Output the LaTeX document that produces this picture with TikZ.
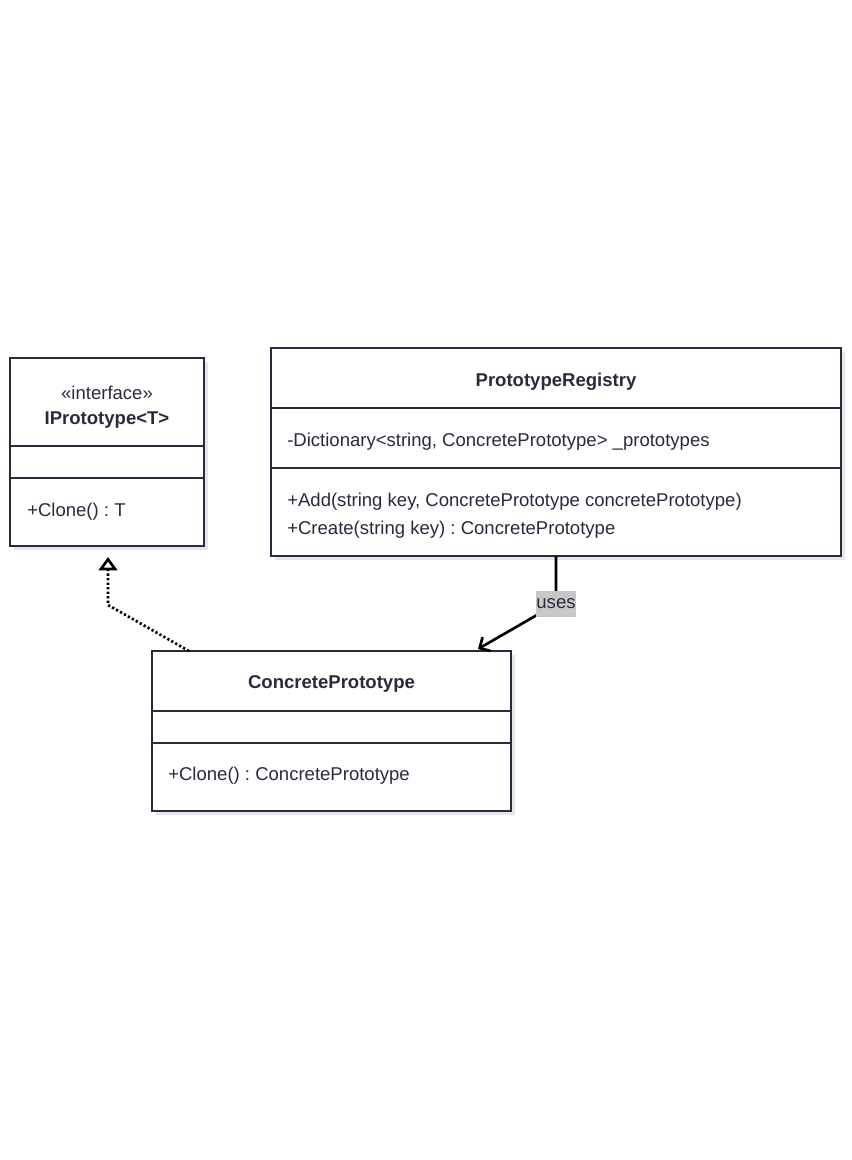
\documentclass[tikz,border=0pt]{standalone}
\usepackage{fontspec}
\setmainfont{Liberation Sans}
\usetikzlibrary{arrows.meta,shadows}
\definecolor{ink}{HTML}{2A2A3C}
\definecolor{shadowgray}{HTML}{E6E6EA}
\definecolor{labelgray}{HTML}{C8C8C8}
\tikzset{
  umlbox/.style={draw=ink, line width=2pt, fill=white, inner sep=0pt,
    general shadow={shadow xshift=3pt, shadow yshift=-3pt, fill=shadowgray}},
  divider/.style={draw=ink, line width=2pt},
  member/.style={anchor=west, inner sep=0pt, text=ink, font=\fontsize{13.9}{16}\selectfont},
  title/.style={inner sep=0pt, text=ink, font=\fontsize{13.9}{16}\selectfont\bfseries},
  stereo/.style={inner sep=0pt, text=ink, font=\fontsize{13.9}{16}\selectfont},
  realize/.style={line width=2pt, dash pattern=on 1.7pt off 1.7pt, -{Triangle[open, length=10pt, width=14pt, line width=2pt]}},
  assoc/.style={line width=2pt, -{Straight Barb[length=6pt, width=12pt, line width=2pt]}},
  uselabel/.style={fill=labelgray, text=ink, inner sep=0pt, minimum width=30pt, minimum height=20pt, text depth=0pt, font=\fontsize{13.9}{16}\selectfont}
}
\begin{document}
\frenchspacing
\begin{tikzpicture}[x=0.75pt, y=-0.75pt]
\useasboundingbox (0,0) rectangle (852,1160);
\fill[white] (0,0) rectangle (852,1160);

% IPrototype<T>
\node[umlbox, minimum width=145.5pt, minimum height=141pt] (ip) at (107,452) {};
\draw[divider] (10,446) -- (204,446);
\draw[divider] (10,478) -- (204,478);
\node[stereo] (ipst) at (107,393) {«interface»};
\node[title] (ipt) at (107,420) {IPrototype<T>};
\node[member] (ipm) at (27,512) {+Clone() : T};

% PrototypeRegistry
\node[umlbox, minimum width=427.5pt, minimum height=156pt] (reg) at (556,452) {};
\draw[divider] (271,408) -- (841,408);
\draw[divider] (271,468) -- (841,468);
\node[title] (regt) at (556,382) {PrototypeRegistry};
\node[member] (rega) at (287,442) {-Dictionary<string, ConcretePrototype> \_prototypes};
\node[member] (regm1) at (287,502) {+Add(string key, ConcretePrototype concretePrototype)};
\node[member] (regm2) at (287,530) {+Create(string key) : ConcretePrototype};

% ConcretePrototype
\node[umlbox, minimum width=269.25pt, minimum height=120pt] (cp) at (331.5,731) {};
\draw[divider] (152,711) -- (511,711);
\draw[divider] (152,743) -- (511,743);
\node[title] (cpt) at (331.5,684) {ConcretePrototype};
\node[member] (cpm) at (168,776) {+Clone() : ConcretePrototype};

% connectors
\coordinate (rs) at (189,651);
\coordinate (rb) at (108,605);
\coordinate (rt) at (108,557);
\draw[realize] (rs) -- (rb) -- (rt);

\coordinate (us) at (556,556);
\coordinate (ub) at (556,604);
\coordinate (ue) at (478,649);
\draw[assoc] (us) -- (ub) -- (ue);
\node[uselabel] (ul) at (ub) {uses};
\end{tikzpicture}
\end{document}
